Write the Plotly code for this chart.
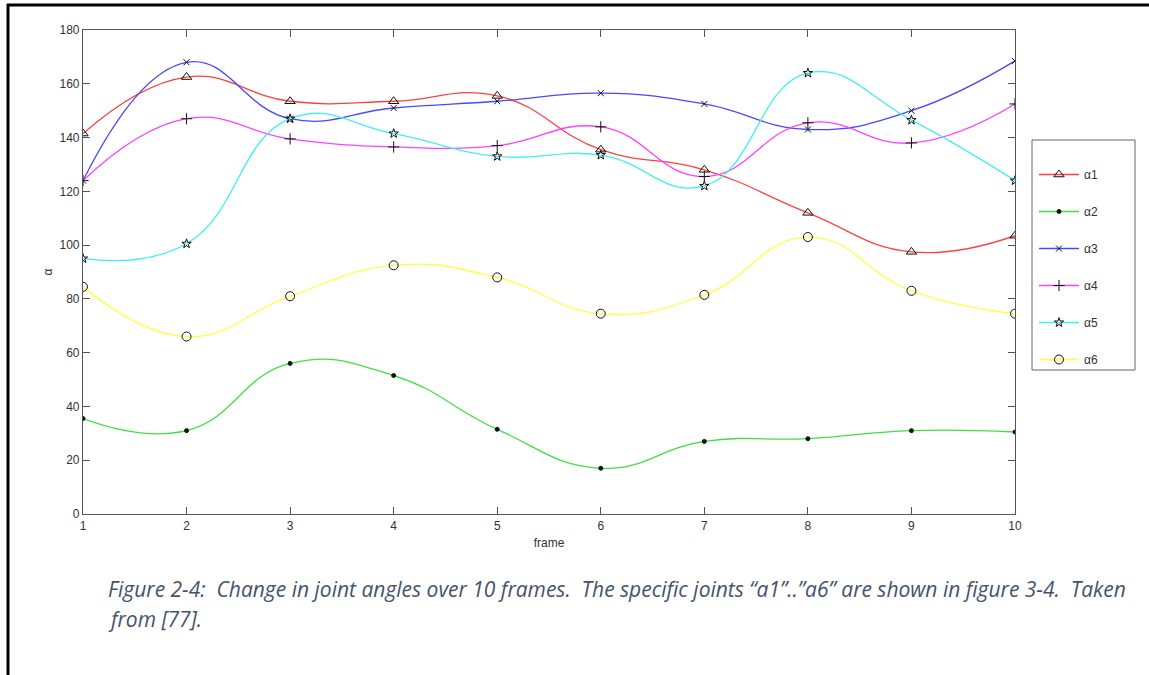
import plotly.graph_objects as go

W, H = 1149, 675
ML, MR, MT, MB = 83, 134, 30, 161

frames = [1, 2, 3, 4, 5, 6, 7, 8, 9, 10]

a1 = [141.5, 162.5, 153.5, 153.5, 155.5, 135.5, 128.0, 112.0, 97.5, 103.5]
a2 = [35.5, 31.0, 56.0, 51.5, 31.5, 17.0, 27.0, 28.0, 31.0, 30.5]
a3 = [124.0, 168.0, 147.0, 151.0, 153.5, 156.5, 152.5, 143.0, 150.0, 168.5]
a4 = [124.0, 147.0, 139.5, 136.5, 137.0, 144.0, 125.5, 145.5, 138.0, 152.5]
a5 = [95.0, 100.5, 147.0, 141.5, 133.0, 133.5, 122.0, 164.0, 146.5, 124.0]
a6 = [84.5, 66.0, 81.0, 92.5, 88.0, 74.5, 81.5, 103.0, 83.0, 74.5]

series_names = ["α1", "α2", "α3", "α4", "α5", "α6"]
series_values = [a1, a2, a3, a4, a5, a6]
line_colors = ["#ff4040", "#40e040", "#4848ff", "#ff40ff", "#40f0f0", "#ffff40"]
marker_symbols = ["triangle-up-open", "circle", "x-thin-open", "cross-thin-open",
                  "star-open", "circle-open"]
marker_sizes = [9, 4, 6, 8, 7, 9]

y_ticks = [0, 20, 40, 60, 80, 100, 120, 140, 160, 180]

fig = go.Figure()
for name, vals, col, sym, sz in zip(series_names, series_values, line_colors,
                                    marker_symbols, marker_sizes):
    fig.add_trace(go.Scatter(
        x=frames, y=vals, name=name, legendgroup=name,
        mode="lines+markers",
        line=dict(color=col, width=1.3, shape="spline", smoothing=1.3),
        marker=dict(symbol=sym, size=sz, color="#111111",
                    line=dict(color="#111111", width=1)),
    ))

tick_font = dict(family="Liberation Sans, Arial, sans-serif", size=12, color="#333333")
axis_common = dict(
    showline=True, linecolor="#555555", linewidth=1.2, mirror="ticks",
    ticks="inside", ticklen=7, tickcolor="#555555", tickwidth=1.2,
    showgrid=False, zeroline=False, tickfont=tick_font,
)

fig.update_xaxes(range=[1, 10], tickvals=frames, **axis_common,
                 title=dict(text="frame", font=tick_font, standoff=7))
fig.update_yaxes(range=[0, 180], tickvals=y_ticks, **axis_common,
                 title=dict(text="α", font=tick_font, standoff=4))

pw = W - ML - MR
ph = H - MT - MB


def px_x(p):
    return (p - ML) / pw


def px_y(p):
    return (H - MB - p) / ph


# Outer page frame (left and top edges)
fig.add_shape(type="line", xref="paper", yref="paper",
              x0=px_x(8), x1=px_x(8), y0=px_y(4), y1=px_y(H + 5),
              line=dict(color="#000000", width=3))
fig.add_shape(type="line", xref="paper", yref="paper",
              x0=px_x(7), x1=px_x(W + 5), y0=px_y(5), y1=px_y(5),
              line=dict(color="#000000", width=3))

# Legend frame
fig.add_shape(type="rect", xref="paper", yref="paper",
              x0=px_x(1032), x1=px_x(1135), y0=px_y(140), y1=px_y(370),
              line=dict(color="#666666", width=1), fillcolor="white", layer="below")

caption_font = dict(family="Open Sans, Liberation Sans, sans-serif", size=21,
                    color="#44546a")
caption_lines = [
    "<i>Figure 2-4:  Change in joint angles over 10 frames.  The specific joints “a1”..”a6” are shown in figure 3-4.  Taken</i>",
    "<i>from [77].</i>",
]
for i, txt in enumerate(caption_lines):
    fig.add_annotation(text=txt, xref="paper", yref="paper",
                       x=px_x(106), y=px_y(589 + 30 * i),
                       xanchor="left", yanchor="middle", showarrow=False,
                       font=caption_font)

fig.update_layout(
    width=W, height=H,
    margin=dict(l=ML, r=MR, t=MT, b=MB),
    paper_bgcolor="white", plot_bgcolor="white",
    showlegend=True,
    legend=dict(
        x=px_x(1034), y=px_y(160), xanchor="left", yanchor="top",
        bgcolor="rgba(0,0,0,0)", borderwidth=0,
        font=dict(family="Liberation Sans, Arial, sans-serif", size=12, color="#333333"),
        tracegroupgap=18, itemwidth=40,
    ),
)

fig.write_html("out.html")
